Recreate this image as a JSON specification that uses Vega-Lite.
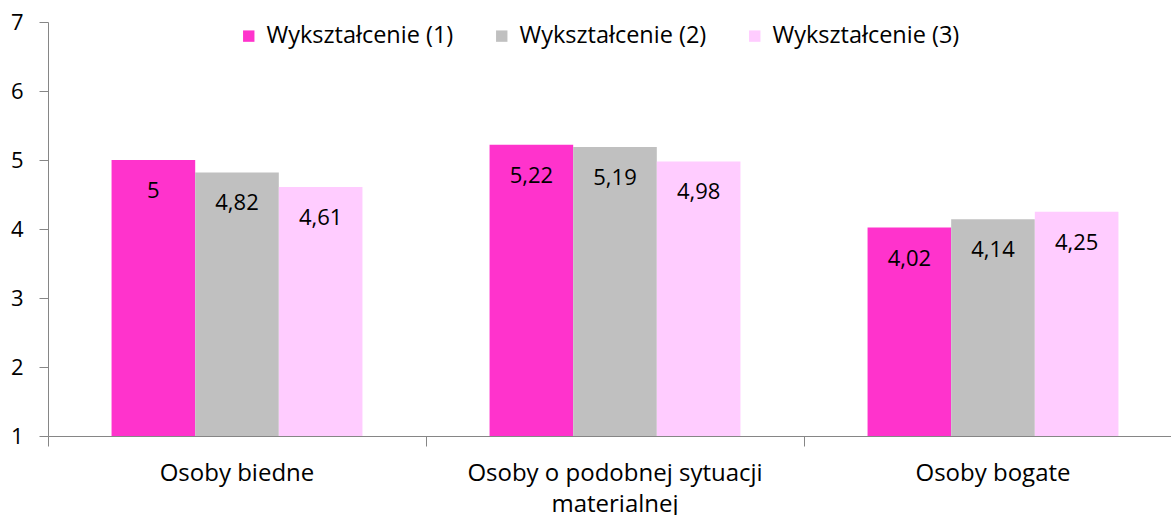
{
  "$schema": "https://vega.github.io/schema/vega-lite/v6.json",
  "autosize": "none",
  "padding": {"left": 48, "top": 22, "right": 0, "bottom": 79},
  "width": 1134,
  "height": 414,
  "background": "white",
  "config": {
    "view": {"stroke": null},
    "font": "Open Sans",
    "locale": {"number": {"decimal": ",", "thousands": " ", "grouping": [3], "currency": ["", " zł"]}}
  },
  "data": {
    "values": [
      {"grupa": "Osoby biedne", "seria": "Wykształcenie (1)", "wartosc": 5},
      {"grupa": "Osoby biedne", "seria": "Wykształcenie (2)", "wartosc": 4.82},
      {"grupa": "Osoby biedne", "seria": "Wykształcenie (3)", "wartosc": 4.61},
      {"grupa": "Osoby o podobnej sytuacji materialnej", "seria": "Wykształcenie (1)", "wartosc": 5.22},
      {"grupa": "Osoby o podobnej sytuacji materialnej", "seria": "Wykształcenie (2)", "wartosc": 5.19},
      {"grupa": "Osoby o podobnej sytuacji materialnej", "seria": "Wykształcenie (3)", "wartosc": 4.98},
      {"grupa": "Osoby bogate", "seria": "Wykształcenie (1)", "wartosc": 4.02},
      {"grupa": "Osoby bogate", "seria": "Wykształcenie (2)", "wartosc": 4.14},
      {"grupa": "Osoby bogate", "seria": "Wykształcenie (3)", "wartosc": 4.25}
    ]
  },
  "encoding": {
    "x": {
      "field": "grupa",
      "type": "nominal",
      "sort": null,
      "title": null,
      "scale": {"paddingInner": 0, "paddingOuter": 0},
      "axis": {
        "bandPosition": 0,
        "labelAngle": 0,
        "labelFontSize": 24,
        "labelColor": "#000000",
        "labelPadding": 15,
        "labelLineHeight": 31,
        "labelExpr": "datum.label == 'Osoby o podobnej sytuacji materialnej' ? ['Osoby o podobnej sytuacji', 'materialnej'] : datum.label",
        "domainColor": "#868686",
        "tickColor": "#868686",
        "tickSize": 10,
        "labelLimit": 400
      }
    },
    "xOffset": {
      "field": "seria",
      "type": "nominal",
      "scale": {"paddingInner": 0, "paddingOuter": 0.76}
    },
    "y": {
      "field": "wartosc",
      "type": "quantitative",
      "title": null,
      "scale": {"domain": [1, 7], "zero": false, "nice": false},
      "axis": {
        "values": [1, 2, 3, 4, 5, 6, 7],
        "grid": false,
        "labelFontSize": 22,
        "labelColor": "#000000",
        "labelPadding": 16,
        "domainColor": "#868686",
        "tickColor": "#868686",
        "tickSize": 9
      }
    }
  },
  "layer": [
    {
      "mark": {"type": "bar"},
      "encoding": {
        "y2": {"datum": 1},
        "color": {
          "field": "seria",
          "type": "nominal",
          "title": null,
          "scale": {
            "domain": ["Wykształcenie (1)", "Wykształcenie (2)", "Wykształcenie (3)"],
            "range": ["#FF33CC", "#C0C0C0", "#FFCCFF"]
          },
          "legend": {
            "orient": "none",
            "direction": "horizontal",
            "legendX": 189,
            "legendY": 2,
            "symbolType": "square",
            "symbolSize": 130,
            "symbolStrokeWidth": 0,
            "labelFontSize": 23.5,
            "labelColor": "#000000",
            "labelOffset": 6,
            "columnPadding": 36,
            "labelLimit": 300
          }
        }
      }
    },
    {
      "mark": {"type": "text", "baseline": "middle", "dy": 31, "fontSize": 22, "color": "#000000"},
      "encoding": {
        "text": {"field": "wartosc", "type": "quantitative", "format": ".3~g"}
      }
    }
  ]
}
